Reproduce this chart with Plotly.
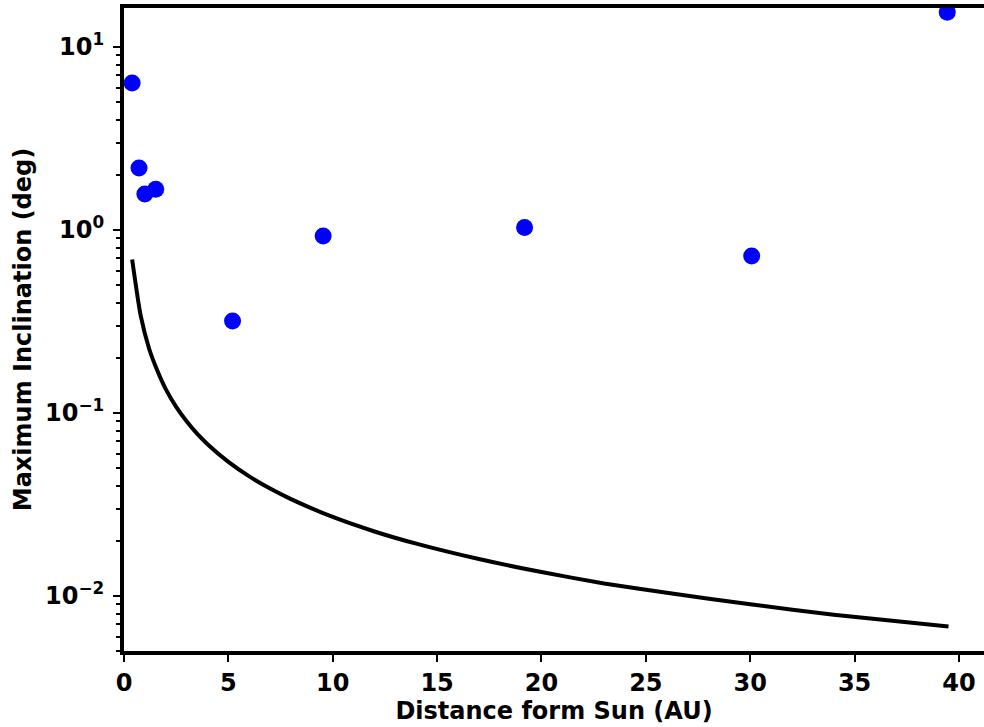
import plotly.graph_objects as go

# Planet data: distance from Sun (AU) and maximum inclination (deg)
planet_dist = [0.39, 0.72, 1.00, 1.52, 5.20, 9.54, 19.19, 30.07, 39.44]
planet_incl = [6.35, 2.18, 1.57, 1.67, 0.318, 0.927, 1.03, 0.72, 15.5]

# Curve values
curve_dist = [0.39, 0.8, 1.2, 1.6, 2.0, 2.5, 3.0, 3.5, 4.0, 5.0, 6.0, 7.0, 8.0,
              10.0, 12.0, 14.0, 17.0, 20.0, 23.0, 26.0, 30.0, 34.0, 39.5]
curve_incl = [0.69, 0.34, 0.225, 0.17, 0.135, 0.108, 0.09, 0.077, 0.0675, 0.054,
              0.045, 0.0386, 0.0338, 0.027, 0.0225, 0.0193, 0.0159, 0.0135,
              0.0117, 0.0104, 0.009, 0.0079, 0.0068]

x_ticks = [0, 5, 10, 15, 20, 25, 30, 35, 40]
y_ticks = [0.01, 0.1, 1, 10]
y_ticktext = ["10<sup>−2</sup>", "10<sup>−1</sup>", "10<sup>0</sup>", "10<sup>1</sup>"]

minor_vals = []
for dec in [0.001, 0.01, 0.1, 1, 10]:
    for m in range(2, 10):
        minor_vals.append(m * dec)

font = dict(family="DejaVu Sans", size=24, color="black", weight="bold")

fig = go.Figure()
fig.add_trace(go.Scatter(x=curve_dist, y=curve_incl, mode="lines",
                         line=dict(color="black", width=4, shape="spline", smoothing=0.6),
                         showlegend=False))
fig.add_trace(go.Scatter(x=planet_dist, y=planet_incl, mode="markers",
                         marker=dict(color="#0000ff", size=17, line=dict(width=0)),
                         showlegend=False))

fig.update_layout(
    width=984, height=727,
    margin=dict(l=124, r=0, t=8, b=76),
    paper_bgcolor="white", plot_bgcolor="white",
    font=font,
    xaxis=dict(range=[0, 41.2], tickvals=x_ticks, ticks="outside", ticklen=7,
               tickwidth=2, tickcolor="black", showgrid=False, zeroline=False,
               showline=True, linewidth=4, linecolor="black", mirror=True,
               tickfont=font,
               title=dict(text="Distance form Sun (AU)", font=font, standoff=4)),
    yaxis=dict(type="log", range=[-2.301, 1.213], tickvals=y_ticks,
               ticktext=y_ticktext, ticks="outside", ticklen=7, tickwidth=2,
               tickcolor="black", showgrid=False, zeroline=False,
               showline=True, linewidth=4, linecolor="black", mirror=False,
               tickfont=font, ticklabelstandoff=4,
               minor=dict(tickvals=minor_vals, ticks="outside", ticklen=4,
                          tickwidth=1.5, tickcolor="black", showgrid=False),
               title=dict(text="Maximum Inclination (deg)", font=font, standoff=8)),
)

fig.write_html("out.html")
